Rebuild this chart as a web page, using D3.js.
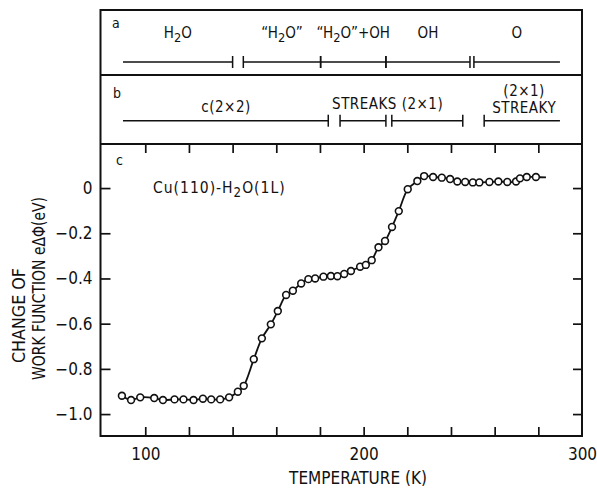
<!DOCTYPE html>
<html>
<head>
<meta charset="utf-8">
<script src="https://cdn.jsdelivr.net/npm/d3@7"></script>
<style>
  body { margin: 0; background: #fff; }
  text { font-family: "Liberation Sans Narrow", "DejaVu Sans Condensed", "DejaVu Sans", sans-serif; fill: #111; }
</style>
</head>
<body>
<svg width="597" height="490"></svg>
<script>
// work function change vs temperature, Cu(110)-H2O (1L)
const temps = [89.3, 93.5, 97.7, 104.1, 108.1, 113.4, 117.5, 122.1, 126.4, 130.2, 134.3, 138.4,
    142.4, 145.1, 149.7, 153.4, 157.5, 160.7, 164.5, 167.6, 171.4, 174.7, 177.8, 181.6,
    185.0, 188.0, 191.1, 194.2, 198.4, 201.0, 203.7, 206.8, 209.8, 213.0, 216.1, 220.2,
    224.6, 227.7, 231.8, 235.8, 239.6, 242.9, 246.5, 250.0, 253.0, 257.6, 261.7, 265.8,
    269.8, 271.6, 274.7, 278.9];
const dphi = [-0.919, -0.938, -0.926, -0.929, -0.938, -0.935, -0.935, -0.938, -0.932, -0.935, -0.935, -0.926,
    -0.901, -0.875, -0.757, -0.665, -0.603, -0.544, -0.473, -0.454, -0.422, -0.403, -0.400, -0.392,
    -0.389, -0.390, -0.380, -0.367, -0.348, -0.340, -0.319, -0.262, -0.234, -0.172, -0.102, -0.005,
    0.031, 0.053, 0.049, 0.046, 0.040, 0.029, 0.027, 0.025, 0.025, 0.027, 0.029, 0.027,
    0.029, 0.043, 0.049, 0.049];
// the drawn curve runs a little past the last point
const curveEnd = [283.5, 0.047];

// panel a: adsorbed species, panel b: LEED pattern (temperature ranges, K)
const speciesRanges = [[89.8, 140.0], [144.9, 180.3], [180.3, 210.2], [210.2, 248.7], [250.5, 289.9]];
const speciesLabels = ['H_2O', '\u201CH_2O\u201D', '\u201CH_2O\u201D+OH', 'OH', 'O'];
const leedRanges = [[89.8, 183.8], [189.2, 210.2], [212.9, 245.4], [255.2, 289.9]];
const leedLabels = [['c(2\u00D72)'], ['STREAKS (2\u00D71)'], ['(2\u00D71)', 'STREAKY']];
const leedLabelTemps = [137, 211, 273.5];

const xTicks = [100, 120, 140, 160, 180, 200, 220, 240, 260, 280];
const xLabels = [100, 200, 300];
const yTicks = [0, -0.2, -0.4, -0.6, -0.8, -1.0];

let svg = d3.select('svg');

let frameL = 100.5, frameR = 582, frameT = 10;
let sepA = 75, sepB = 144, frameB = 436;

let x = d3.scaleLinear()
    .domain([79.5, 300])
    .range([frameL, frameR]);

let y = d3.scaleLinear()
    .domain([-1.097, 0.195])
    .range([frameB, sepB]);

// frame
svg.append('rect')
    .attr('x', frameL).attr('y', frameT)
    .attr('width', frameR - frameL).attr('height', frameB - frameT)
    .attr('fill', 'none').attr('stroke', '#111').attr('stroke-width', 2);
[sepA, sepB].forEach(yy => {
    svg.append('line')
        .attr('x1', frameL).attr('x2', frameR)
        .attr('y1', yy).attr('y2', yy)
        .attr('stroke', '#111').attr('stroke-width', 2);
});

// subscript helper: "H_2O" -> H, sub 2, O
function richText(sel, label) {
    let parts = label.split(/_(\d)/);
    let shift = 0;
    parts.forEach((p, i) => {
        if (!p) return;
        let t = sel.append('tspan').text(p);
        if (i % 2 == 1) {
            t.attr('dy', 4).attr('font-size', '0.85em');
            shift = -4;
        } else if (shift) {
            t.attr('dy', shift);
            shift = 0;
        }
    });
}

function rangeBar(ranges, lineY) {
    let g = svg.append('g').attr('stroke', '#111').attr('stroke-width', 1.5);
    ranges.forEach(([a, b], i) => {
        g.append('line')
            .attr('x1', x(a)).attr('x2', x(b))
            .attr('y1', lineY).attr('y2', lineY);
        let ends = [];
        if (i > 0) ends.push(a);
        if (i < ranges.length - 1) ends.push(b);
        ends.forEach(t => {
            g.append('line')
                .attr('x1', x(t)).attr('x2', x(t))
                .attr('y1', lineY - 6).attr('y2', lineY + 6);
        });
    });
}

// panel a
svg.append('text').attr('x', 112).attr('y', 28).attr('font-size', 14).text('a');
rangeBar(speciesRanges, 62);
speciesRanges.forEach(([a, b], i) => {
    let t = svg.append('text')
        .attr('x', x((a + b) / 2)).attr('y', 38)
        .attr('text-anchor', 'middle').attr('font-size', 15);
    richText(t, speciesLabels[i]);
});

// panel b
svg.append('text').attr('x', 113).attr('y', 98).attr('font-size', 14).text('b');
rangeBar(leedRanges, 120.7);
let leedBase = [[112], [109], [96, 112.5]];
leedLabels.forEach((lines, i) => {
    lines.forEach((s, k) => {
        svg.append('text')
            .attr('x', x(leedLabelTemps[i])).attr('y', leedBase[i][k])
            .attr('text-anchor', 'middle').attr('font-size', 15)
            .attr('letter-spacing', 0.5)
            .text(s);
    });
});

// panel c axes
let fmt = d => d === 0 ? '0' : d3.format('.1f')(d);

let gx = svg.append('g').attr('transform', `translate(0,${frameB})`)
    .call(d3.axisBottom(x).tickValues(xTicks).tickSize(-9).tickFormat(''));
let gxl = svg.append('g').attr('transform', `translate(0,${frameB})`)
    .call(d3.axisBottom(x).tickValues(xLabels).tickSize(0).tickPadding(12));
let gxt = svg.append('g').attr('transform', `translate(0,${sepB})`)
    .call(d3.axisTop(x).tickValues(xTicks).tickSize(-9).tickFormat(''));
let gy = svg.append('g').attr('transform', `translate(${frameL},0)`)
    .call(d3.axisLeft(y).tickValues(yTicks).tickSize(-10).tickPadding(8).tickFormat(fmt));
let gyr = svg.append('g').attr('transform', `translate(${frameR},0)`)
    .call(d3.axisRight(y).tickValues(yTicks).tickSize(-9).tickFormat(''));

[gx, gxl, gxt, gy, gyr].forEach(g => {
    g.select('.domain').remove();
    g.selectAll('line').attr('stroke', '#111').attr('stroke-width', 1.7);
    g.attr('font-family', null).attr('font-size', 17);
    g.selectAll('text').attr('fill', '#111');
});

svg.append('text').attr('x', 116).attr('y', 165).attr('font-size', 14).text('c');
let ann = svg.append('text').attr('x', 153).attr('y', 193).attr('font-size', 15.5)
    .attr('letter-spacing', 1);
richText(ann, 'Cu(110)-H_2O(1L)');

// axis titles
svg.append('text')
    .attr('x', 358).attr('y', 484)
    .attr('text-anchor', 'middle').attr('font-size', 17)
    .text('TEMPERATURE (K)');
svg.append('text')
    .attr('transform', 'translate(25,315.5) rotate(-90)')
    .attr('text-anchor', 'middle').attr('font-size', 17)
    .attr('textLength', 95).attr('lengthAdjust', 'spacingAndGlyphs')
    .text('CHANGE OF');
svg.append('text')
    .attr('transform', 'translate(45,288.5) rotate(-90)')
    .attr('text-anchor', 'middle').attr('font-size', 17)
    .attr('textLength', 183).attr('lengthAdjust', 'spacingAndGlyphs')
    .text('WORK FUNCTION e\u0394\u03A6(eV)');

// curve and points
let pts = temps.map((t, i) => [t, dphi[i]]);
let line = d3.line()
    .x(d => x(d[0]))
    .y(d => y(d[1]))
    .curve(d3.curveCatmullRom.alpha(0.5));

svg.append('path')
    .datum(pts.concat([curveEnd]))
    .attr('d', line)
    .attr('fill', 'none')
    .attr('stroke', '#111')
    .attr('stroke-width', 1.8);

svg.append('g').selectAll('circle').data(pts)
    .enter().append('circle')
    .attr('cx', d => x(d[0]))
    .attr('cy', d => y(d[1]))
    .attr('r', 3.4)
    .attr('fill', '#fff')
    .attr('stroke', '#111')
    .attr('stroke-width', 1.6);
</script>
</body>
</html>
